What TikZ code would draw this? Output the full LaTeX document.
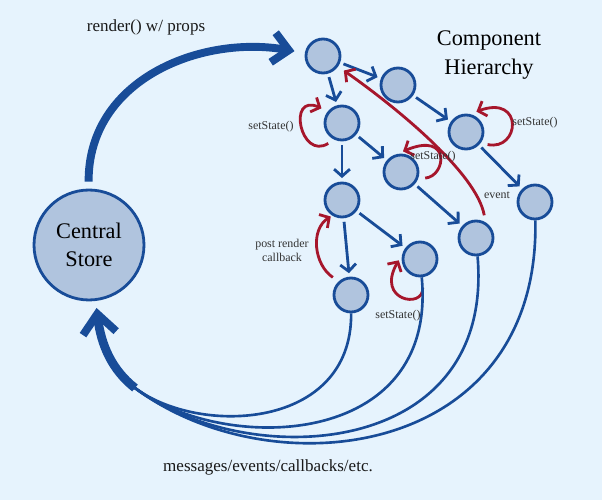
\documentclass[tikz,border=0pt]{standalone}
\usepackage{fontspec}
\setmainfont{Liberation Serif}
\usetikzlibrary{arrows.meta}

\definecolor{bgblue}{RGB}{230,243,253}
\definecolor{nodefill}{RGB}{176,196,222}
\definecolor{flowblue}{RGB}{24,76,152}
\definecolor{statered}{RGB}{166,22,44}

\begin{document}
\begin{tikzpicture}[x=0.02cm, y=0.02cm,
  comp/.style={circle, draw=flowblue, fill=nodefill, line width=1.6pt, minimum size=0.68cm, inner sep=0pt},
  storenode/.style={circle, draw=flowblue, fill=nodefill, line width=1.6pt, minimum size=2.2cm, inner sep=0pt, align=center, font=\fontsize{12.7}{16}\selectfont},
  child/.style={draw=flowblue, line width=1.6pt, shorten <=2pt, shorten >=2pt, -{Straight Barb[length=4pt,width=9pt]}},
  callback/.style={draw=statered, line width=1.6pt, shorten <=4pt, shorten >=4pt, -{Straight Barb[length=4pt,width=9pt]}},
  upward/.style={draw=flowblue, line width=1.5pt},
  bigflow/.style={draw=flowblue, line width=4.5pt},
  note/.style={font=\fontsize{6.8}{8}\selectfont, align=center, text=black!80},
  caption/.style={font=\fontsize{9.7}{11}\selectfont, text=black!90},
  ]

\def\width{602}
\def\height{500}

% BACKGROUND
\fill [bgblue] (0,0) rectangle (\width,\height);
\path [use as bounding box] (0,0) rectangle (\width,\height);

% STORE
\node [storenode] (store) at (89,255) {Central\\Store};

% COMPONENTS
\node [comp] (c1) at (323,444) {};
\node [comp] (c2) at (398,415) {};
\node [comp] (c3) at (342,377) {};
\node [comp] (c4) at (466,368) {};
\node [comp] (c5) at (401,328) {};
\node [comp] (c6) at (342,300) {};
\node [comp] (c7) at (535,298) {};
\node [comp] (c8) at (476,262) {};
\node [comp] (c9) at (420,241) {};
\node [comp] (c10) at (351,205) {};

% CHILD LINKS
\draw [child] (c1) -- (c2);
\draw [child] (c1) -- (c3);
\draw [child] (c2) -- (c4);
\draw [child] (c3) -- (c5);
\draw [child] (c3) -- (c6);
\draw [child] (c4) -- (c7);
\draw [child] (c5) -- (c8);
\draw [child] (c6) -- (c9);
\draw [child] (c6) -- (c10);

% SETSTATE LOOPS
\draw [callback] (c3.245) .. controls +(212:40) and +(156:45) .. (c3.140);
\draw [callback] (c4.323) .. controls +(-12:40) and +(20:58) .. (c4.78);
\draw [callback] (c5.339) .. controls +(4:28) and +(23:60) .. (c5.104);
\draw [callback, shorten <=6pt] (c9.276) .. controls +(274:32) and +(240:54) .. (c9.165);

% POST RENDER + EVENT
\draw [callback, shorten >=1pt] (c10.132) .. controls +(146:30) and +(212:26) .. (c6.238);
\draw [callback] (c8.59) .. controls +(100:50) and +(-35:70) .. (c1.325);

% RENDER
\draw [bigflow, shorten <=4pt, shorten >=6pt, -{Straight Barb[length=9pt,width=17pt]}]
  (store) .. controls (88,420) and (200,465) .. (c1);

% MESSAGES
\coordinate (merge) at (135,112);
\draw [upward] (c10) .. controls (352,70) and (199,64) .. (merge);
\draw [upward] (c9) .. controls (438,50) and (223,46) .. (merge);
\draw [upward] (c8) .. controls (495,40) and (247,28) .. (merge);
\draw [upward] (c7) .. controls (540,40) and (271,10) .. (merge);
\draw [bigflow, line width=5pt, shorten >=4pt, -{Straight Barb[length=11pt,width=19pt,line width=4.5pt]}]
  (merge) .. controls (112,130) and (101,155) .. (store);

% LABELS
\node [caption] (lblrender) at (146,473) {render() w/ props};
\node [caption] (lblmsgs) at (268,33) {messages/events/callbacks/etc.};
\node [font=\fontsize{12.7}{17}\selectfont, align=center] (title) at (489,445) {Component\\Hierarchy};
\node [note] (lblstate1) at (271,373) {setState()};
\node [note] (lblstate2) at (535,377) {setState()};
\node [note] (lblstate3) at (433,343) {setState()};
\node [note] (lblstate4) at (398,184) {setState()};
\node [note] (lblevent) at (497,305) {event};
\node [note] (lblpost) at (282,250) {post render\\callback};

\end{tikzpicture}
\end{document}
